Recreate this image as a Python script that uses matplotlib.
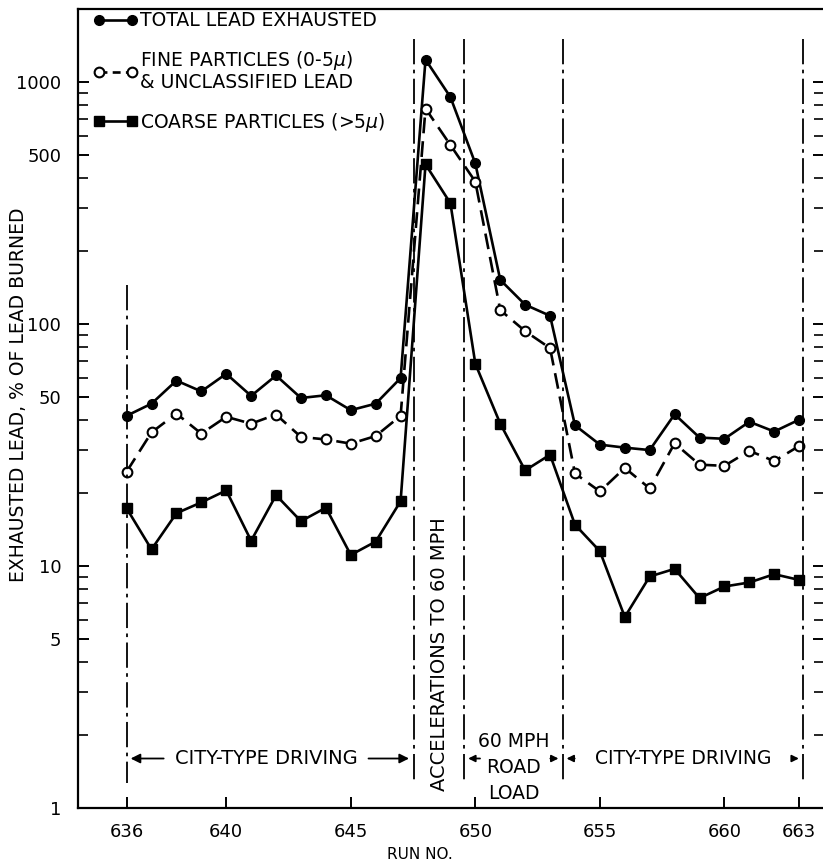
import numpy as np
import matplotlib
matplotlib.use("Agg")
import matplotlib.pyplot as plt
from matplotlib.lines import Line2D
from matplotlib.ticker import FixedLocator, LogLocator, NullFormatter

plt.rcParams['font.family'] = ['DejaVu Sans']

runs = list(range(636, 664))

total_lead = [41.7, 46.8, 58.3, 52.6, 62.2, 50.4, 61.2, 49.4, 50.7, 44.0, 46.8, 59.7,
              1236, 865, 460, 152, 120, 108,
              38.1, 31.7, 30.8, 30.1, 42.3, 33.9, 33.5, 39.4, 35.9, 40.2]
fine_lead = [24.5, 35.6, 42.6, 35.2, 41.3, 38.7, 42.2, 34.1, 33.3, 32.0, 34.4, 41.7,
             776, 548, 387, 114, 93.3, 79.4,
             24.1, 20.3, 25.4, 20.9, 32.1, 26.2, 25.9, 29.9, 27.1, 31.3]
coarse_lead = [17.3, 11.7, 16.5, 18.3, 20.5, 12.7, 19.6, 15.3, 17.4, 11.1, 12.6, 18.5,
               456, 315, 68.4, 38.7, 24.8, 28.8,
               14.8, 11.5, 6.15, 9.04, 9.72, 7.36, 8.22, 8.54, 9.24, 8.75]

x_ticks = [636, 640, 645, 650, 655, 660, 663]
y_ticks = [1, 5, 10, 50, 100, 500, 1000]
phase_bounds = [636, 647.55, 649.55, 653.5, 663.15]

fig = plt.figure(figsize=(8.23, 8.65), dpi=100)
ax = fig.add_axes([0.0948, 0.066, 0.9065, 0.9236])

lw = 1.9
fine_dash = (0, (6, 3))
ax.plot(runs, total_lead, color='black', lw=lw, marker='o', ms=7, mfc='black', mec='black')
ax.plot(runs, fine_lead, color='black', lw=lw, ls=fine_dash, marker='o', ms=7,
        mfc='white', mec='black', mew=1.5)
ax.plot(runs, coarse_lead, color='black', lw=lw, marker='s', ms=6.5, mfc='black', mec='black')

# phase boundaries
dashdot = (0, (14, 3, 2, 3))
ax.plot([phase_bounds[0]] * 2, [145, 1.27], color='black', lw=1.3, ls=dashdot)
for xb in phase_bounds[1:]:
    ax.plot([xb] * 2, [1500, 1.27], color='black', lw=1.3, ls=dashdot)

fs = 14
y_lab = 1.6
ax.text(641.6, y_lab, 'CITY-TYPE DRIVING', ha='center', va='center', fontsize=fs)
arrow = dict(arrowstyle='-|>', color='black', lw=1.3, mutation_scale=14)
ax.annotate('', xy=(636.05, y_lab), xytext=(637.6, y_lab), arrowprops=arrow)
ax.annotate('', xy=(647.45, y_lab), xytext=(645.6, y_lab), arrowprops=arrow)

ax.text(648.55, 4.3, 'ACCELERATIONS TO 60 MPH', rotation=90, ha='center', va='center',
        fontsize=fs)
ax.text(651.55, 1.47, '60 MPH\nROAD\nLOAD', ha='center', va='center', fontsize=fs - 0.5,
        linespacing=1.45)
small = dict(arrowstyle='-|>', color='black', lw=1.3, mutation_scale=10)
ax.annotate('', xy=(649.6, y_lab), xytext=(650.3, y_lab), arrowprops=small)
ax.annotate('', xy=(653.45, y_lab), xytext=(652.9, y_lab), arrowprops=small)
ax.annotate('', xy=(653.55, y_lab), xytext=(654.1, y_lab), arrowprops=small)
ax.text(658.35, y_lab, 'CITY-TYPE DRIVING', ha='center', va='center', fontsize=fs - 0.5)
ax.annotate('', xy=(663.1, y_lab), xytext=(662.6, y_lab), arrowprops=small)

ax.set_yscale('log')
ax.set_xlim(634.05, 664.0)
ax.set_ylim(1, 2000)

ax.xaxis.set_major_locator(FixedLocator(x_ticks))
ax.set_xticklabels([str(v) for v in x_ticks])
ax.yaxis.set_major_locator(FixedLocator(y_ticks))
ax.set_yticklabels([str(v) for v in y_ticks])
ax.yaxis.set_minor_locator(LogLocator(base=10, subs=np.arange(2, 10)))
ax.yaxis.set_minor_formatter(NullFormatter())

ax.tick_params(axis='both', which='major', direction='in', length=8, width=1.4,
               labelsize=13)
ax.tick_params(axis='y', which='major', pad=12)
ax.tick_params(axis='x', which='major', pad=11)
ax.tick_params(axis='y', which='minor', direction='in', length=7, width=1.2)
ax.tick_params(axis='y', which='both', right=True)
ax.tick_params(axis='x', which='both', top=False)
for side in ('left', 'bottom', 'top'):
    ax.spines[side].set_linewidth(1.6)
ax.spines['right'].set_visible(False)

ax.set_ylabel('EXHAUSTED LEAD, % OF LEAD BURNED', fontsize=13.5)
ax.yaxis.set_label_coords(-0.080, 0.517)
ax.yaxis.label.set_horizontalalignment('center')
ax.yaxis.label.set_verticalalignment('center')
ax.set_xlabel('RUN NO.', fontsize=11)
ax.xaxis.set_label_coords(0.458, -0.058)
ax.xaxis.label.set_verticalalignment('center')

handles = [
    Line2D([0], [0], color='black', lw=lw, marker='o', ms=7, mfc='black'),
    Line2D([0], [0], color='black', lw=lw, ls=(0, (3, 2)), marker='o', ms=7,
           mfc='white', mew=1.5),
    Line2D([0], [0], color='black', lw=lw, marker='s', ms=6.5, mfc='black'),
]
labels = ['TOTAL LEAD EXHAUSTED',
          'FINE PARTICLES (0-5$\\mu$)\n& UNCLASSIFIED LEAD',
          'COARSE PARTICLES (>5$\\mu$)']
leg = ax.legend(handles, labels, loc='upper left', bbox_to_anchor=(0.005, 1.011),
                frameon=False, fontsize=13.5, numpoints=2, handlelength=2.4,
                handletextpad=0.1, labelspacing=1.0, borderaxespad=0.2)
for t in leg.get_texts():
    t.set_linespacing(1.05)

fig.savefig('out.png', dpi=100)
